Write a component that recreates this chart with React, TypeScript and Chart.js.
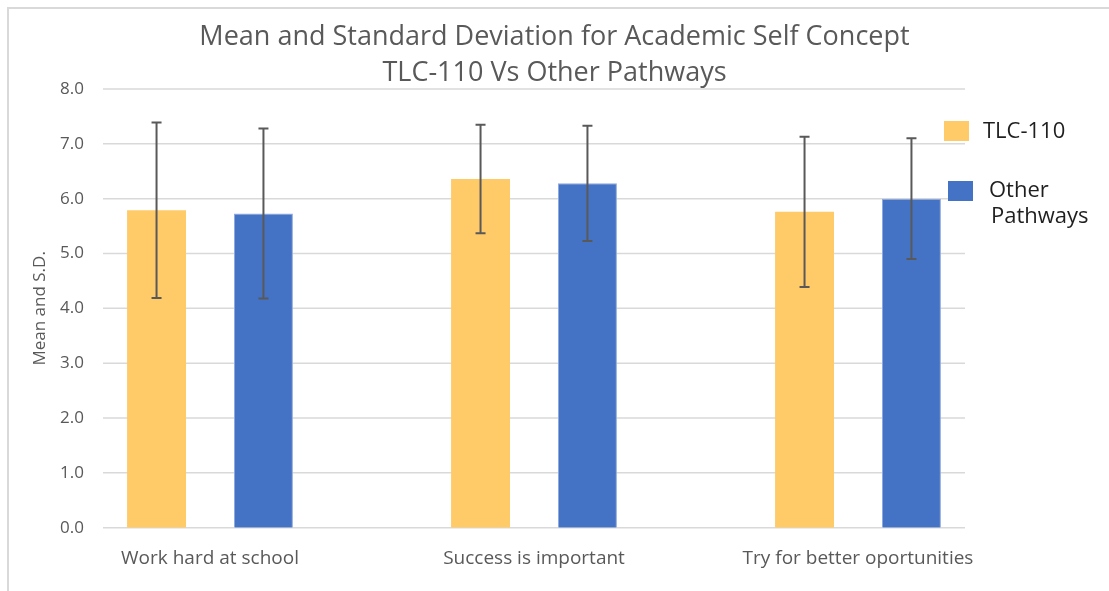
import React, { useEffect, useRef } from "react";
import { Chart, registerables } from "chart.js";

Chart.register(...registerables);

// ---- data ----
const categories = ["Work hard at school", "Success is important", "Try for better oportunities"];
const seriesNames = ["TLC-110", "Other Pathways"];
const tlcMeans = [5.79, 6.36, 5.76];
const tlcSD = [1.6, 0.99, 1.37];
const otherMeans = [5.73, 6.28, 6.0];
const otherSD = [1.55, 1.05, 1.1];
const yTicks = [0, 1, 2, 3, 4, 5, 6, 7, 8];
const titleLines = ["Mean and Standard Deviation for Academic Self Concept", "TLC-110 Vs Other Pathways"];
const yAxisTitle = "Mean and S.D.";
const legendLines = [["TLC-110"], ["Other", "Pathways"]];
const seriesColors = ["#FFCA68", "#4472C4"];

const FONT = "'Open Sans', 'Noto Sans', sans-serif";

const gridPlugin = {
  id: "insetGrid",
  beforeDatasetsDraw(chart: any) {
    const { ctx, chartArea } = chart;
    const y = chart.scales.y;
    const inset = 55;
    ctx.save();
    ctx.strokeStyle = "#d9d9d9";
    ctx.lineWidth = 1.5;
    y.ticks.forEach((t: any) => {
      const py = y.getPixelForValue(t.value);
      ctx.beginPath();
      ctx.moveTo(chartArea.left + inset, py);
      ctx.lineTo(chartArea.right - inset, py);
      ctx.stroke();
    });
    ctx.restore();
  },
};

const errorBarPlugin = {
  id: "errorBars",
  afterDatasetsDraw(chart: any, _args: any, opts: any) {
    const { ctx } = chart;
    const y = chart.scales.y;
    const errs: number[][] = opts.errors || [];
    ctx.save();
    ctx.strokeStyle = "#595959";
    ctx.lineWidth = 2;
    chart.data.datasets.forEach((ds: any, i: number) => {
      const meta = chart.getDatasetMeta(i);
      meta.data.forEach((bar: any, j: number) => {
        const m = ds.data[j];
        const s = errs[i][j];
        const yt = y.getPixelForValue(m + s);
        const yb = y.getPixelForValue(m - s);
        const x = bar.x;
        ctx.beginPath();
        ctx.moveTo(x, yt);
        ctx.lineTo(x, yb);
        ctx.moveTo(x - 5, yt);
        ctx.lineTo(x + 5, yt);
        ctx.moveTo(x - 5, yb);
        ctx.lineTo(x + 5, yb);
        ctx.stroke();
      });
    });
    ctx.restore();
  },
};

const legendPlugin = {
  id: "sideLegend",
  afterDraw(chart: any, _args: any, opts: any) {
    const { ctx } = chart;
    const items = opts.items || [];
    ctx.save();
    ctx.font = `22px ${FONT}`;
    ctx.textBaseline = "alphabetic";
    ctx.textAlign = "left";
    items.forEach((it: any, i: number) => {
      const ds = chart.data.datasets[i];
      ctx.fillStyle = ds.backgroundColor;
      ctx.fillRect(it.bx, it.by, 25, 20);
      ctx.fillStyle = "#1f1f1f";
      legendLines[i].forEach((line: string, k: number) => {
        ctx.fillText(line, it.tx + k * 2, it.ty + k * 26);
      });
    });
    ctx.restore();
  },
};

export default function App() {
  const ref = useRef<HTMLCanvasElement>(null);

  useEffect(() => {
    if (!ref.current) return;
    const chart = new Chart(ref.current, {
      type: "bar",
      data: {
        labels: categories,
        datasets: [
          {
            label: seriesNames[0],
            data: tlcMeans,
            backgroundColor: seriesColors[0],
            categoryPercentage: 0.66,
            barPercentage: 0.551,
          },
          {
            label: seriesNames[1],
            data: otherMeans,
            backgroundColor: seriesColors[1],
            borderColor: "#8eaadc",
            borderWidth: 1,
            categoryPercentage: 0.66,
            barPercentage: 0.551,
          },
        ],
      },
      options: {
        responsive: false,
        animation: false,
        layout: { padding: 0 },
        scales: {
          x: {
            grid: { display: false, drawTicks: false },
            border: { display: false },
            ticks: { color: "#595959", font: { family: FONT, size: 19 }, padding: 19 },
            afterFit: (s: any) => {
              s.height = 63.3;
            },
          },
          y: {
            min: 0,
            max: 8,
            afterBuildTicks: (s: any) => {
              s.ticks = yTicks.map((v) => ({ value: v }));
            },
            grid: { display: false, drawTicks: false },
            border: { display: false },
            ticks: {
              mirror: true,
              padding: 12,
              color: "#595959",
              font: { family: FONT, size: 17 },
              callback: (v: any) => Number(v).toFixed(1),
            },
            title: {
              display: true,
              text: yAxisTitle,
              color: "#595959",
              font: { family: FONT, size: 17 },
              padding: { top: 30, bottom: 0 },
            },
            afterFit: (s: any) => {
              s.width = 48;
            },
          },
          yRight: {
            type: "linear",
            position: "right",
            display: true,
            grid: { display: false },
            border: { display: false },
            ticks: { display: false },
            afterFit: (s: any) => {
              s.width = 89;
            },
          },
        },
        plugins: {
          legend: { display: false },
          tooltip: { enabled: false },
          title: {
            display: true,
            text: titleLines,
            color: "#595959",
            font: { family: FONT, size: 27, weight: "normal", lineHeight: 1.3333 },
            padding: { top: 19, bottom: -2 },
          },
          errorBars: { errors: [tlcSD, otherSD] },
          sideLegend: {
            items: [
              { bx: 944, by: 121, tx: 983, ty: 138 },
              { bx: 948, by: 181, tx: 989, ty: 197 },
            ],
          },
        },
      } as any,
      plugins: [gridPlugin, errorBarPlugin, legendPlugin],
    });
    return () => chart.destroy();
  }, []);

  return (
    <div style={{ position: "absolute", left: 0, top: 0, width: 1109, height: 591, background: "#fff" }}>
      <canvas ref={ref} width={1109} height={591} style={{ display: "block" }} />
      <div
        style={{
          position: "absolute",
          left: 7,
          top: 7,
          width: 1110,
          height: 590,
          borderTop: "2px solid #d9d9d9",
          borderLeft: "2px solid #d9d9d9",
          pointerEvents: "none",
        }}
      />
    </div>
  );
}
